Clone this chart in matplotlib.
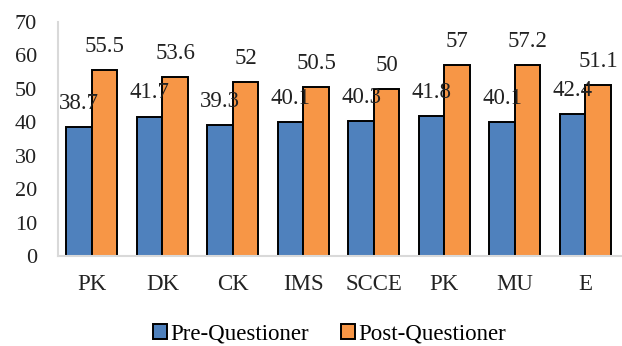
import matplotlib
matplotlib.use("Agg")
import matplotlib.pyplot as plt
import numpy as np

categories = ["PK", "DK", "CK", "IMS", "SCCE", "PK", "MU", "E"]
pre_values = [38.7, 41.7, 39.3, 40.1, 40.3, 41.8, 40.1, 42.4]
post_values = [55.5, 53.6, 52, 50.5, 50, 57, 57.2, 51.1]
pre_labels = ["38.7", "41.7", "39.3", "40.1", "40.3", "41.8", "40.1", "42.4"]
post_labels = ["55.5", "53.6", "52", "50.5", "50", "57", "57.2", "51.1"]
series_names = ["Pre-Questioner", "Post-Questioner"]
yticks = [0, 10, 20, 30, 40, 50, 60, 70]

plt.rcParams['font.family'] = ['Liberation Serif', 'DejaVu Serif']

fig = plt.figure(figsize=(6.22, 3.46), dpi=100)
ax = fig.add_axes([58/622, 90/346, 1 - 58/622, (256-22)/346])

x = np.arange(len(categories))
w = 0.36
b1 = ax.bar(x - w/2, pre_values, w, color="#4f81bd", edgecolor="black", linewidth=1.4, label=series_names[0])
b2 = ax.bar(x + w/2, post_values, w, color="#f79646", edgecolor="black", linewidth=1.4, label=series_names[1])

for xi, v, t in zip(x - w/2, pre_values, pre_labels):
    ax.annotate(t, (xi, v), xytext=(0, 17), textcoords="offset points",
                ha="center", va="center", fontsize=16.5, color="#222222")
for xi, v, t in zip(x + w/2, post_values, post_labels):
    ax.annotate(t, (xi, v), xytext=(0, 17), textcoords="offset points",
                ha="center", va="center", fontsize=16.5, color="#222222")

ax.set_xlim(-0.48, 7.52)
ax.set_ylim(0, 70)
ax.set_yticks(yticks)
ax.set_yticklabels([str(t) for t in yticks], fontsize=16)
ax.set_xticks(x)
ax.set_xticklabels(categories, fontsize=16.5)
ax.tick_params(axis="both", length=0, colors="#222222")
ax.tick_params(axis="y", pad=15)
ax.tick_params(axis="x", pad=13)
for s in ["top", "right"]:
    ax.spines[s].set_visible(False)
for s in ["left", "bottom"]:
    ax.spines[s].set_color("#d9d9d9")
    ax.spines[s].set_linewidth(1.5)

fig.legend(handles=[b1, b2], labels=series_names, loc="lower center",
           bbox_to_anchor=(0.53, -0.055), ncol=2, frameon=False, fontsize=16.5,
           handlelength=0.6, handleheight=0.6, handletextpad=0.15, columnspacing=1.4)

fig.savefig("out.png", dpi=100)
